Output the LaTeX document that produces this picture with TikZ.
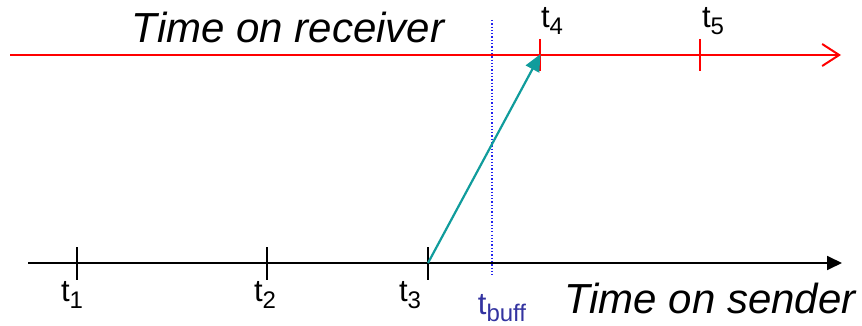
\documentclass[tikz,border=0pt]{standalone}
\usepackage{fontspec}
\setmainfont{Liberation Sans}
\usetikzlibrary{arrows.meta, positioning}
\definecolor{cRecv}{HTML}{FF0000}
\definecolor{cSend}{HTML}{000000}
\definecolor{cMsg}{HTML}{109C9C}
\definecolor{cBuff}{HTML}{2222EE}
\definecolor{cBuffTxt}{HTML}{3333A0}
\newcommand{\tsub}[1]{t\raisebox{-7pt}{\fontsize{24}{26}\selectfont #1}}
\tikzset{
  axislbl/.style={font=\fontsize{42}{46}\selectfont\itshape, inner sep=0pt},
  ticklbl/.style={font=\fontsize{31}{33}\selectfont, inner sep=0pt},
  tickmark/.style={line width=2pt, color=#1},
  tickmark/.default=cSend,
}
\begin{document}
\begin{tikzpicture}[x=1pt, y=-1pt]
  \useasboundingbox (0,0) rectangle (862,326);

  % receiver time line
  \coordinate (rstart) at (10,55);
  \coordinate (rend) at (841,55);
  \draw[cRecv, line width=1.8pt, -{Straight Barb[length=17pt, width=22pt, line width=2pt]}]
    (rstart) -- (rend);
  \node[axislbl] (rtitle) at (288,27) {Time on receiver};

  % sender time line
  \coordinate (sstart) at (28,263);
  \coordinate (send) at (842,263);
  \draw[cSend, line width=1.8pt, -{Triangle[length=15pt, width=14pt]}]
    (sstart) -- (send);
  \node[axislbl] (stitle) at (710,298) {Time on sender};

  % ticks on sender
  \foreach \i/\x/\lx in {1/77/72, 2/267/265, 3/428/410} {
    \coordinate (s\i) at (\x,263);
    \draw[tickmark] (\x,247) -- (\x,280);
    \node[ticklbl] (lbl\i) at (\lx,295) {\tsub{\i}};
  }

  % ticks on receiver
  \foreach \i/\x/\lx in {4/540/552, 5/700/713} {
    \coordinate (r\i) at (\x,55);
    \draw[tickmark=cRecv] (\x,39) -- (\x,71);
    \node[ticklbl] (lbl\i) at (\lx,21) {\tsub{\i}};
  }

  % buffer limit
  \coordinate (btop) at (492,20);
  \coordinate (bbot) at (492,276);
  \draw[cBuff, line width=1.3pt, dotted] (btop) -- (bbot);
  \node[ticklbl, text=cBuffTxt] (lblbuff) at (502,308) {\tsub{buff}};

  % message
  \draw[cMsg, line width=2.2pt, -{Triangle[length=17pt, width=15pt]}, shorten >=-1pt]
    (s3) -- (r4);
\end{tikzpicture}
\end{document}
